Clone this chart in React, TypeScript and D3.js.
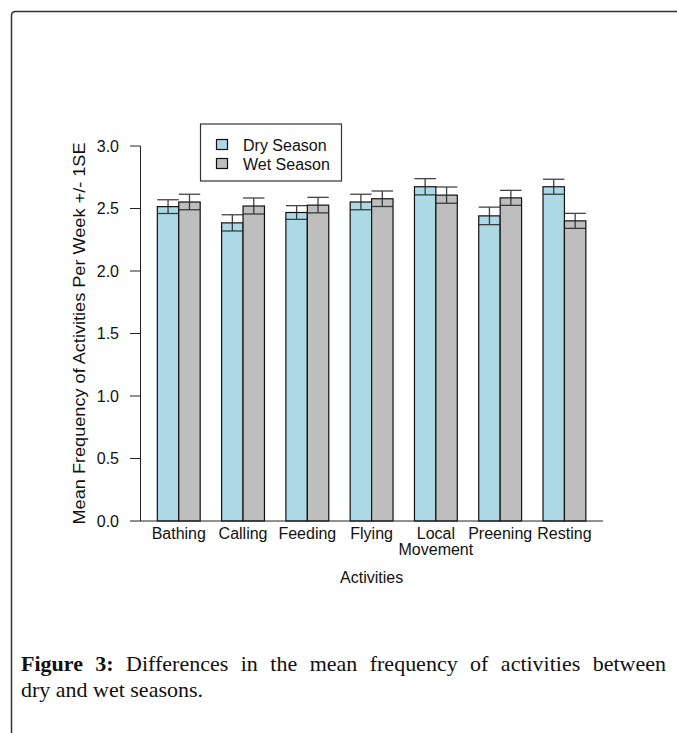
import React, { useEffect, useRef } from "react";
import * as d3 from "d3";

const categories = ["Bathing", "Calling", "Feeding", "Flying", "Local\nMovement", "Preening", "Resting"];
const dryMeans = [2.515, 2.385, 2.468, 2.552, 2.674, 2.441, 2.674];
const wetMeans = [2.552, 2.52, 2.527, 2.578, 2.607, 2.585, 2.401];
const drySE = [0.055, 0.065, 0.055, 0.062, 0.065, 0.07, 0.06];
const wetSE = [0.062, 0.064, 0.062, 0.062, 0.065, 0.06, 0.06];
const yTicks = [0, 0.5, 1, 1.5, 2, 2.5, 3];
const seriesNames = ["Dry Season", "Wet Season"];
const seriesColors = ["#ADD8E6", "#BEBEBE"];
const yLabel = "Mean Frequency of Activities Per Week +/- 1SE";
const xLabel = "Activities";
const captionBold = ["Figure", "3:"];
const captionLine1 = "Differences in the mean frequency of activities between";
const captionLine2 = "dry and wet seasons.";

const FONT = "'Liberation Sans', Arial, sans-serif";
const SERIF = "'Liberation Serif', 'Times New Roman', serif";
const CAP_SX = 1.1;

export default function App() {
  const capRef = useRef<SVGGElement>(null);

  // bar units as in R barplot(beside=TRUE, space=c(0,1))
  const x = d3.scaleLinear().domain([0.2, 21.8]).range([140.2, 603]);
  const y = d3.scaleLinear().domain([0, 3]).range([521, 146]);
  const bw = x(1) - x(0);

  const bars: { x0: number; v: number; se: number; color: string }[] = [];
  categories.forEach((_, i) => {
    bars.push({ x0: 1 + 3 * i, v: dryMeans[i], se: drySE[i], color: seriesColors[0] });
    bars.push({ x0: 2 + 3 * i, v: wetMeans[i], se: wetSE[i], color: seriesColors[1] });
  });

  useEffect(() => {
    const g = d3.select(capRef.current);
    g.selectAll("*").remove();
    const words = [
      ...captionBold.map((t) => ({ t, b: true })),
      ...captionLine1.split(" ").map((t) => ({ t, b: false })),
    ];
    const texts = g
      .selectAll("text.w")
      .data(words)
      .join("text")
      .attr("class", "w")
      .attr("y", 671)
      .attr("font-family", SERIF)
      .attr("font-size", 20)
      .attr("font-weight", (d) => (d.b ? "bold" : "normal"))
      .attr("fill", "#111")
      .text((d) => d.t);
    const nodes = texts.nodes() as SVGTextElement[];
    const widths = nodes.map((n) => n.getComputedTextLength());
    const total = d3.sum(widths);
    const avail = (666 - 21) / CAP_SX;
    const gap = (avail - total) / (words.length - 1);
    let cx = 0;
    nodes.forEach((n, i) => {
      d3.select(n).attr("x", cx);
      cx += widths[i] + gap;
    });
  }, []);

  return (
    <svg
      width={677}
      height={733}
      style={{ position: "absolute", left: 0, top: 0, background: "#fff" }}
    >
      {/* frame */}
      <path d="M11.5,733 L11.5,15.5 Q11.5,11.5 15.5,11.5 L677,11.5" fill="none" stroke="#333" strokeWidth={1.5} />

      {/* bars */}
      {bars.map((b, i) => (
        <rect
          key={"b" + i}
          x={x(b.x0)}
          y={y(b.v)}
          width={bw}
          height={y(0) - y(b.v)}
          fill={b.color}
          stroke="#111"
          strokeWidth={1.2}
        />
      ))}
      {/* error bars */}
      {bars.map((b, i) => {
        const cx = x(b.x0 + 0.5);
        const lo = y(b.v - b.se);
        const hi = y(b.v + b.se);
        return (
          <g key={"e" + i} stroke="#222" strokeWidth={1.3} opacity={0.85}>
            <line x1={cx} x2={cx} y1={lo} y2={hi} />
            <line x1={x(b.x0)} x2={x(b.x0 + 1)} y1={hi} y2={hi} />
            <line x1={x(b.x0)} x2={x(b.x0 + 1)} y1={lo} y2={lo} />
          </g>
        );
      })}

      {/* y axis */}
      <line x1={140.5} x2={140.5} y1={y(0)} y2={y(3)} stroke="#222" strokeWidth={1} />
      {yTicks.map((t) => (
        <g key={"t" + t}>
          <line x1={130} x2={140.5} y1={y(t)} y2={y(t)} stroke="#222" strokeWidth={1} />
          <text
            x={119}
            y={y(t)}
            dy="0.36em"
            textAnchor="end"
            fontFamily={FONT}
            fontSize={16}
            fill="#111"
          >
            {t.toFixed(1)}
          </text>
        </g>
      ))}
      {/* baseline */}
      <line x1={140.5} x2={x(21.8)} y1={y(0)} y2={y(0)} stroke="#222" strokeWidth={1} />

      {/* category labels */}
      {categories.map((c, i) => {
        const cx = x(2 + 3 * i);
        const lines = c.split("\n");
        return (
          <text key={"c" + i} x={cx} y={539} textAnchor="middle" fontFamily={FONT} fontSize={16} fill="#111">
            {lines.map((l, j) => (
              <tspan key={j} x={cx} dy={j === 0 ? 0 : 16}>
                {l}
              </tspan>
            ))}
          </text>
        );
      })}

      {/* axis titles */}
      <text x={(x(0.2) + x(21.8)) / 2} y={583} textAnchor="middle" fontFamily={FONT} fontSize={16} fill="#111">
        {xLabel}
      </text>
      <text
        transform={`translate(85,${(y(0) + y(3)) / 2}) rotate(-90)`}
        textAnchor="middle"
        fontFamily={FONT}
        fontSize={16}
        fill="#111"
        textLength={382}
        lengthAdjust="spacingAndGlyphs"
      >
        {yLabel}
      </text>

      {/* legend */}
      <rect x={200.5} y={124} width={141} height={57} fill="#fff" stroke="#333" strokeWidth={1.2} />
      {seriesNames.map((s, i) => (
        <g key={"l" + i}>
          <rect x={216.5} y={139.5 + i * 19} width={11} height={10} fill={seriesColors[i]} stroke="#111" strokeWidth={1.2} />
          <text x={243} y={150.5 + i * 19} fontFamily={FONT} fontSize={16} fill="#111">
            {s}
          </text>
        </g>
      ))}

      {/* caption */}
      <g transform={`translate(21,0) scale(${CAP_SX},1)`}>
        <g ref={capRef} />
        <text x={0} y={697} fontFamily={SERIF} fontSize={20} fill="#111">
          {captionLine2}
        </text>
      </g>
    </svg>
  );
}
